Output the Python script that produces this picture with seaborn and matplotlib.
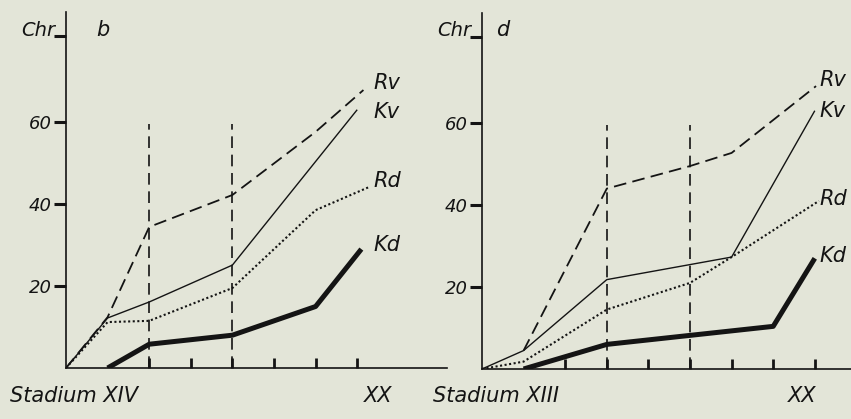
import numpy as np
import pandas as pd
import matplotlib
matplotlib.use("Agg")
import matplotlib.pyplot as plt
import seaborn as sns

# panel b : Stadium XIV .. XX
b_rv_x = [0, 1, 2, 4, 6, 7.15]
b_rv_y = [0, 12.4, 34.4, 42.2, 57.6, 67.8]
b_kv_x = [0, 1, 2, 4, 7.0]
b_kv_y = [0, 12.2, 16.1, 25.1, 63.0]
b_rd_x = [0, 1, 2, 4, 6, 7.3]
b_rd_y = [0, 11.2, 11.5, 19.5, 38.5, 44.2]
b_kd_x = [1, 2, 4, 6, 7.1]
b_kd_y = [0, 5.8, 8.0, 15.0, 29.0]
b_vlines = [2, 4]
b_ticks = [2, 3, 4, 5, 6, 7]

# panel d : Stadium XIII .. XX
d_rv_x = [1, 3, 5, 6, 8.03]
d_rv_y = [4.5, 44.0, 49.5, 52.7, 69.0]
d_kv_x = [0, 1, 3, 6, 8.0]
d_kv_y = [0, 4.5, 21.8, 27.3, 63.0]
d_rd_x = [0, 1, 3, 5, 6, 8.1]
d_rd_y = [0, 1.8, 14.5, 21.0, 27.3, 41.0]
d_kd_x = [1, 3, 7, 8.0]
d_kd_y = [0, 6.0, 10.4, 27.0]
d_vlines = [3, 5]
d_ticks = [2, 3, 4, 5, 6, 7, 8]

y_ticks = [20, 40, 60, 81]
y_labels = ["20", "40", "60", ""]

BG = "#e3e5d8"
INK = "#141414"
W, H = 851, 419

sns.set_style("ticks")
plt.rcParams["font.family"] = ["Liberation Sans Narrow", "DejaVu Sans"]
plt.rcParams["font.style"] = "italic"

fig = plt.figure(figsize=(W / 100, H / 100), dpi=100, facecolor=BG)


def px(x, y):
    return x / W, 1 - y / H


def make_panel(left, right, bottom, top, xmax):
    ax = fig.add_axes([left / W, 1 - bottom / H, (right - left) / W, (bottom - top) / H])
    ax.set_facecolor(BG)
    ax.patch.set_alpha(0)
    ax.set_xlim(0, xmax)
    ax.set_ylim(0, (bottom - top) / 4.1)
    sns.despine(ax=ax)
    for s in ["left", "bottom"]:
        ax.spines[s].set_color(INK)
        ax.spines[s].set_linewidth(1.2)
    return ax


def draw(ax, series, vlines, ticks, labels_x, labels):
    styles = {
        "Rv": dict(lw=1.3, ls=(0, (7, 3.5))),
        "Kv": dict(lw=1.0, ls="-"),
        "Rd": dict(lw=1.5, ls=(0, (1, 1.2))),
        "Kd": dict(lw=3.6, ls="-"),
    }
    for name, (xs, ys) in series.items():
        df = pd.DataFrame({"x": xs, "y": ys})
        sns.lineplot(data=df, x="x", y="y", ax=ax, color=INK, linewidth=styles[name]["lw"],
                     linestyle=styles[name]["ls"], solid_capstyle="butt", sort=False)
    for v in vlines:
        ax.plot([v, v], [0, 59.5], color=INK, lw=1.2, ls=(0, (7, 4)))
    ax.set_xticks(ticks)
    ax.set_xticklabels([])
    ax.tick_params(axis="x", direction="in", length=7, width=2, color=INK)
    ax.set_yticks(y_ticks)
    ax.set_yticklabels(y_labels, fontsize=13, color=INK)
    ax.tick_params(axis="y", direction="out", length=9, width=2.2, color=INK, pad=1)
    ax.set_xlabel("")
    ax.set_ylabel("")
    for name, (lx, ly) in zip(labels, labels_x):
        ax.text(lx, ly, name, fontsize=15, color=INK, ha="left", va="center", clip_on=False)


# panel b
ax_b = make_panel(66, 447, 368, 12, (447 - 66) / 41.6)
draw(ax_b,
     {"Rv": (b_rv_x, b_rv_y), "Kv": (b_kv_x, b_kv_y), "Rd": (b_rd_x, b_rd_y), "Kd": (b_kd_x, b_kd_y)},
     b_vlines, b_ticks,
     [(7.38, 69.5), (7.38, 62.5), (7.38, 45.5), (7.38, 30.0)],
     ["Rv", "Kv", "Rd", "Kd"])

# panel d
ax_d = make_panel(482, 851, 369, 13, (851 - 482) / 41.6)
draw(ax_d,
     {"Rv": (d_rv_x, d_rv_y), "Kv": (d_kv_x, d_kv_y), "Rd": (d_rd_x, d_rd_y), "Kd": (d_kd_x, d_kd_y)},
     d_vlines, d_ticks,
     [(8.12, 70.5), (8.12, 63.0), (8.12, 41.5), (8.12, 27.5)],
     ["Rv", "Kv", "Rd", "Kd"])

# extra lettering
fig.text(*px(55, 30), "Chr", fontsize=14, color=INK, ha="right", va="center")
fig.text(*px(96, 30), "b", fontsize=15, color=INK, ha="left", va="center")
fig.text(*px(10, 396), "Stadium XIV", fontsize=15, color=INK, ha="left", va="center")
fig.text(*px(378, 396), "XX", fontsize=15, color=INK, ha="center", va="center")

fig.text(*px(471, 30), "Chr", fontsize=14, color=INK, ha="right", va="center")
fig.text(*px(496, 30), "d", fontsize=15, color=INK, ha="left", va="center")
fig.text(*px(433, 396), "Stadium XIII", fontsize=15, color=INK, ha="left", va="center")
fig.text(*px(802, 396), "XX", fontsize=15, color=INK, ha="center", va="center")

fig.savefig("out.png", dpi=100, facecolor=BG)
